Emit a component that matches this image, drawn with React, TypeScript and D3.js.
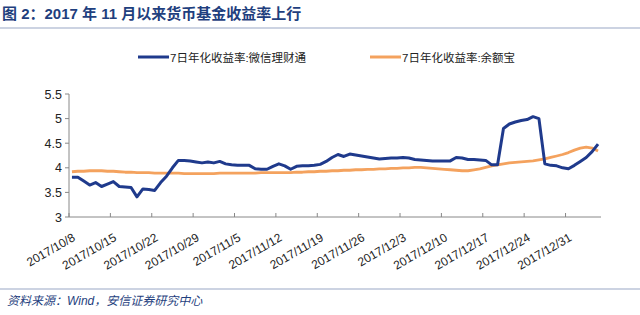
import React from "react";
import * as d3 from "d3";

const startDate = new Date(2017, 9, 8);
const wechatValues = [
  3.81, 3.81, 3.73, 3.65, 3.70, 3.62, 3.67, 3.72, 3.62, 3.61,
  3.60, 3.41, 3.57, 3.56, 3.54, 3.70, 3.83, 4.00, 4.15, 4.15,
  4.14, 4.12, 4.10, 4.12, 4.10, 4.13, 4.08, 4.06, 4.05, 4.05,
  4.05, 3.98, 3.97, 3.97, 4.03, 4.08, 4.04, 3.97, 4.03, 4.04,
  4.04, 4.05, 4.07, 4.13, 4.21, 4.27, 4.23, 4.28, 4.26, 4.24,
  4.22, 4.20, 4.18, 4.19, 4.20, 4.20, 4.21, 4.20, 4.17, 4.16,
  4.15, 4.14, 4.14, 4.14, 4.14, 4.21, 4.20, 4.17, 4.17, 4.16,
  4.15, 4.06, 4.06, 4.80, 4.89, 4.93, 4.96, 4.98, 5.04, 5.00,
  4.08, 4.05, 4.04, 4.00, 3.98, 4.05, 4.13, 4.21, 4.33, 4.48,
];
const yuebaoValues = [
  3.92, 3.93, 3.93, 3.94, 3.94, 3.94, 3.93, 3.93, 3.92, 3.91,
  3.91, 3.90, 3.90, 3.90, 3.89, 3.89, 3.89, 3.89, 3.89, 3.88,
  3.88, 3.88, 3.88, 3.88, 3.88, 3.89, 3.89, 3.89, 3.89, 3.89,
  3.89, 3.89, 3.90, 3.90, 3.90, 3.90, 3.90, 3.90, 3.91, 3.91,
  3.92, 3.92, 3.93, 3.93, 3.94, 3.94, 3.95, 3.95, 3.96, 3.96,
  3.97, 3.97, 3.98, 3.98, 3.99, 3.99, 4.00, 4.00, 4.01, 4.01,
  4.00, 3.99, 3.98, 3.97, 3.96, 3.95, 3.94, 3.94, 3.96, 3.98,
  4.01, 4.04, 4.06, 4.08, 4.10, 4.11, 4.12, 4.13, 4.14, 4.16,
  4.18, 4.21, 4.24, 4.27, 4.31, 4.36, 4.40, 4.42, 4.40, 4.34,
];
const yTicks = [3, 3.5, 4, 4.5, 5, 5.5];
const xTickLabels = [
  "2017/10/8", "2017/10/15", "2017/10/22", "2017/10/29", "2017/11/5",
  "2017/11/12", "2017/11/19", "2017/11/26", "2017/12/3", "2017/12/10",
  "2017/12/17", "2017/12/24", "2017/12/31",
];
const seriesNames = ["7日年化收益率:微信理财通", "7日年化收益率:余额宝"];
const title = "图 2：2017 年 11 月以来货币基金收益率上行";
const source = "资料来源：Wind，安信证券研究中心";

const DAY = 24 * 3600 * 1000;
const parseLabel = (s: string) => {
  const [y, m, d] = s.split("/").map(Number);
  return new Date(y, m - 1, d);
};

export default function App() {
  const W = 640, H = 315;
  const left = 69, right = 601, top = 94, bottom = 217;
  const x = d3.scaleTime()
    .domain([startDate, new Date(startDate.getTime() + 90 * DAY)])
    .range([left, right]);
  const y = d3.scaleLinear().domain([3, 5.5]).range([bottom, top]);
  const dateAt = (i: number) => new Date(startDate.getTime() + (i + 0.5) * DAY);
  const line = d3.line<number>()
    .x((_, i) => x(dateAt(i)))
    .y((v) => y(v))
    .curve(d3.curveLinear);
  const navy = "#1F3A8C";
  const orange = "#F4A25E";
  const axisColor = "#888";
  const cjk = "'Liberation Sans', 'Noto Sans CJK SC', sans-serif";
  const colors = [navy, orange];
  const legendX = [138, 370];

  return (
    <svg width={W} height={H} style={{ display: "block", position: "absolute", left: 0, top: 0, background: "#fff" }}>
      <text x={2} y={19} fontSize={15} fontWeight="bold" fill="#1F3F7E" fontFamily={cjk}>{title}</text>
      <line x1={0} x2={W} y1={28} y2={28} stroke="#9AA8C6" strokeWidth={1.2} />

      {seriesNames.map((n, i) => (
        <g key={n}>
          <line x1={legendX[i]} x2={legendX[i] + 31} y1={57} y2={57} stroke={colors[i]} strokeWidth={3} />
          <text x={legendX[i] + 32} y={61.5} fontSize={11.5} fill="#222" fontFamily={cjk}>{n}</text>
        </g>
      ))}

      <line x1={left} x2={left} y1={top} y2={bottom} stroke={axisColor} strokeWidth={1} />
      {yTicks.map((t) => (
        <g key={t}>
          <line x1={left - 4} x2={left} y1={y(t)} y2={y(t)} stroke={axisColor} />
          <text x={left - 7} y={y(t) + 4.5} fontSize={12.5} textAnchor="end" fill="#222" fontFamily={cjk}>{t}</text>
        </g>
      ))}

      <line x1={left} x2={right} y1={bottom} y2={bottom} stroke={axisColor} strokeWidth={1} />
      {xTickLabels.map((s) => {
        const tx = x(parseLabel(s));
        return (
          <g key={s}>
            <line x1={tx} x2={tx} y1={bottom - 4} y2={bottom} stroke={axisColor} />
            <text
              transform={`translate(${tx + 7},${bottom + 23}) rotate(-30)`}
              fontSize={12}
              textAnchor="end"
              fill="#222"
              fontFamily={cjk}
            >{s}</text>
          </g>
        );
      })}

      <path d={line(yuebaoValues) || ""} fill="none" stroke={orange} strokeWidth={2.8} strokeLinejoin="round" />
      <path d={line(wechatValues) || ""} fill="none" stroke={navy} strokeWidth={3} strokeLinejoin="round" />

      <line x1={0} x2={W} y1={289} y2={289} stroke="#9AA8C6" strokeWidth={1.2} />
      <text x={7} y={305} fontSize={12} fontStyle="italic" fill="#1F3F7E" fontFamily={cjk}>{source}</text>
    </svg>
  );
}
